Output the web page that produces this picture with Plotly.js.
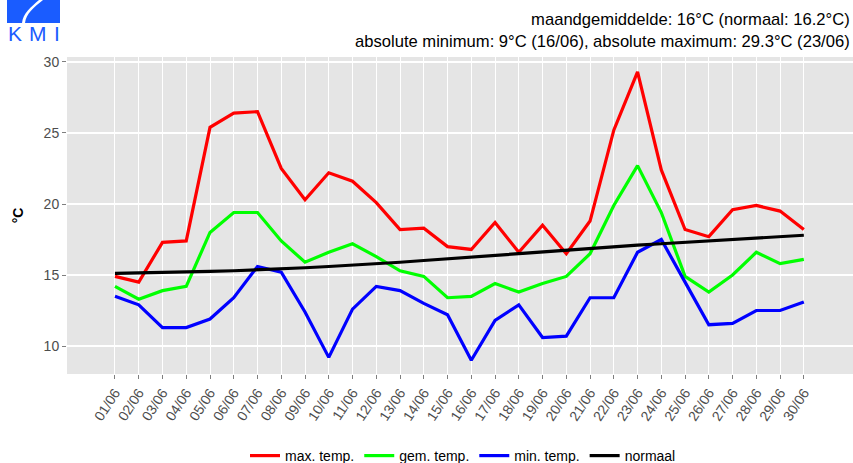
<!DOCTYPE html>
<html>
<head>
<meta charset="utf-8">
<script src="https://cdn.plot.ly/plotly-3.0.1.min.js"></script>
<style>html,body{margin:0;padding:0;background:#fff;}#chart{width:853px;height:463px;}</style>
</head>
<body>
<div id="chart"></div>
<script>
const days = ['01/06','02/06','03/06','04/06','05/06','06/06','07/06','08/06','09/06','10/06',
              '11/06','12/06','13/06','14/06','15/06','16/06','17/06','18/06','19/06','20/06',
              '21/06','22/06','23/06','24/06','25/06','26/06','27/06','28/06','29/06','30/06'];
const maxTemp = [14.9,14.5,17.3,17.4,25.4,26.4,26.5,22.5,20.3,22.2,21.6,20.1,18.2,18.3,17.0,
                 16.8,18.7,16.6,18.5,16.5,18.8,25.2,29.3,22.4,18.2,17.7,19.6,19.9,19.5,18.2];
const gemTemp = [14.2,13.3,13.9,14.2,18.0,19.4,19.4,17.4,15.9,16.6,17.2,16.3,15.3,14.9,13.4,
                 13.5,14.4,13.8,14.4,14.9,16.5,19.9,22.7,19.4,14.9,13.8,15.0,16.6,15.8,16.1];
const minTemp = [13.5,12.9,11.3,11.3,11.9,13.4,15.6,15.2,12.4,9.2,12.6,14.2,13.9,13.0,12.2,
                 9.0,11.8,12.9,10.6,10.7,13.4,13.4,16.6,17.5,14.5,11.5,11.6,12.5,12.5,13.1];
const normaal = [15.12,15.14,15.17,15.21,15.25,15.30,15.36,15.43,15.51,15.60,15.69,15.79,15.90,16.02,16.14,
                 16.27,16.40,16.53,16.66,16.78,16.89,17.00,17.10,17.20,17.30,17.40,17.50,17.60,17.70,17.80];
const seriesNames = ['max. temp.','gem. temp.','min. temp.','normaal'];
const yTicks = [10,15,20,25,30];
const titleLines = ['maandgemiddelde: 16°C (normaal: 16.2°C)',
                    'absolute minimum: 9°C (16/06), absolute maximum: 29.3°C (23/06)'];

// plot-area geometry (pixels)
const L = 67, T = 57, W = 786, H = 317;
const px = x => (x - L) / W;
const py = y => (T + H - y) / H;

const colors = ['#ff0000','#00ff00','#0000ff','#000000'];
const data = [maxTemp, gemTemp, minTemp, normaal].map((vals, i) => ({
  type: 'scatter', mode: 'lines', x: days, y: vals, name: seriesNames[i],
  line: {color: colors[i], width: 3.2}, hoverinfo: 'skip'
}));

const logoBlue = '#1a5cff';
const layout = {
  width: 853, height: 463,
  margin: {l: L, r: 853 - L - W, t: T, b: 463 - T - H, autoexpand: false},
  paper_bgcolor: '#ffffff', plot_bgcolor: '#e5e5e5',
  font: {family: 'Liberation Sans, Arial, sans-serif', color: '#000'},
  xaxis: {
    type: 'category', range: [-2.02, 31.07], showgrid: true, gridcolor: '#ffffff', gridwidth: 1,
    zeroline: false, ticks: 'outside', ticklen: 4, tickcolor: '#7f7f7f', tickwidth: 1,
    tickangle: -57, tickfont: {size: 14, color: '#4d4d4d'}, showline: false, fixedrange: true,
    automargin: false
  },
  yaxis: {
    range: [8.03, 30.35], tickvals: yTicks, ticktext: yTicks.map(String), showgrid: true,
    gridcolor: '#ffffff', gridwidth: 1.2, zeroline: false, ticks: 'outside', ticklen: 4,
    tickcolor: '#7f7f7f', tickwidth: 1, tickfont: {size: 14, color: '#4d4d4d'},
    title: {text: '<b>°C</b>', font: {size: 14, color: '#000'}, standoff: 16}, fixedrange: true,
    automargin: false
  },
  showlegend: true,
  legend: {
    orientation: 'h', x: px(463), xanchor: 'center', y: py(440), yanchor: 'top',
    font: {size: 14, color: '#000'}, bgcolor: 'rgba(0,0,0,0)', itemwidth: 30, tracegroupgap: 0
  },
  annotations: [
    {xref: 'paper', yref: 'paper', x: px(852), y: py(8), xanchor: 'right', yanchor: 'top',
     align: 'right', showarrow: false, text: titleLines.join('<br>'),
     font: {size: 16.6, color: '#000'}},
    {xref: 'paper', yref: 'paper', x: px(15), y: py(33), xanchor: 'center', yanchor: 'middle',
     showarrow: false, text: 'K', font: {size: 21, color: logoBlue}},
    {xref: 'paper', yref: 'paper', x: px(38), y: py(33), xanchor: 'center', yanchor: 'middle',
     showarrow: false, text: 'M', font: {size: 21, color: logoBlue}},
    {xref: 'paper', yref: 'paper', x: px(57), y: py(33), xanchor: 'center', yanchor: 'middle',
     showarrow: false, text: 'I', font: {size: 21, color: logoBlue}}
  ],
  shapes: [
    {type: 'rect', xref: 'paper', yref: 'paper', x0: px(7), x1: px(60), y0: py(23), y1: py(0),
     fillcolor: logoBlue, line: {width: 0}, layer: 'above'},
    {type: 'path', xref: 'paper', yref: 'paper', layer: 'above', fillcolor: '#ffffff', line: {width: 0},
     path: 'M ' + px(39) + ',' + py(0) + ' C ' + px(31) + ',' + py(7) + ' ' + px(23) + ',' + py(13) + ' ' +
           px(22) + ',' + py(23) + ' L ' + px(25) + ',' + py(23) + ' C ' + px(26) + ',' + py(14) + ' ' +
           px(34) + ',' + py(7) + ' ' + px(43) + ',' + py(0) + ' Z'}
  ]
};

Plotly.newPlot('chart', data, layout, {displayModeBar: false, staticPlot: true});
</script>
</body>
</html>
